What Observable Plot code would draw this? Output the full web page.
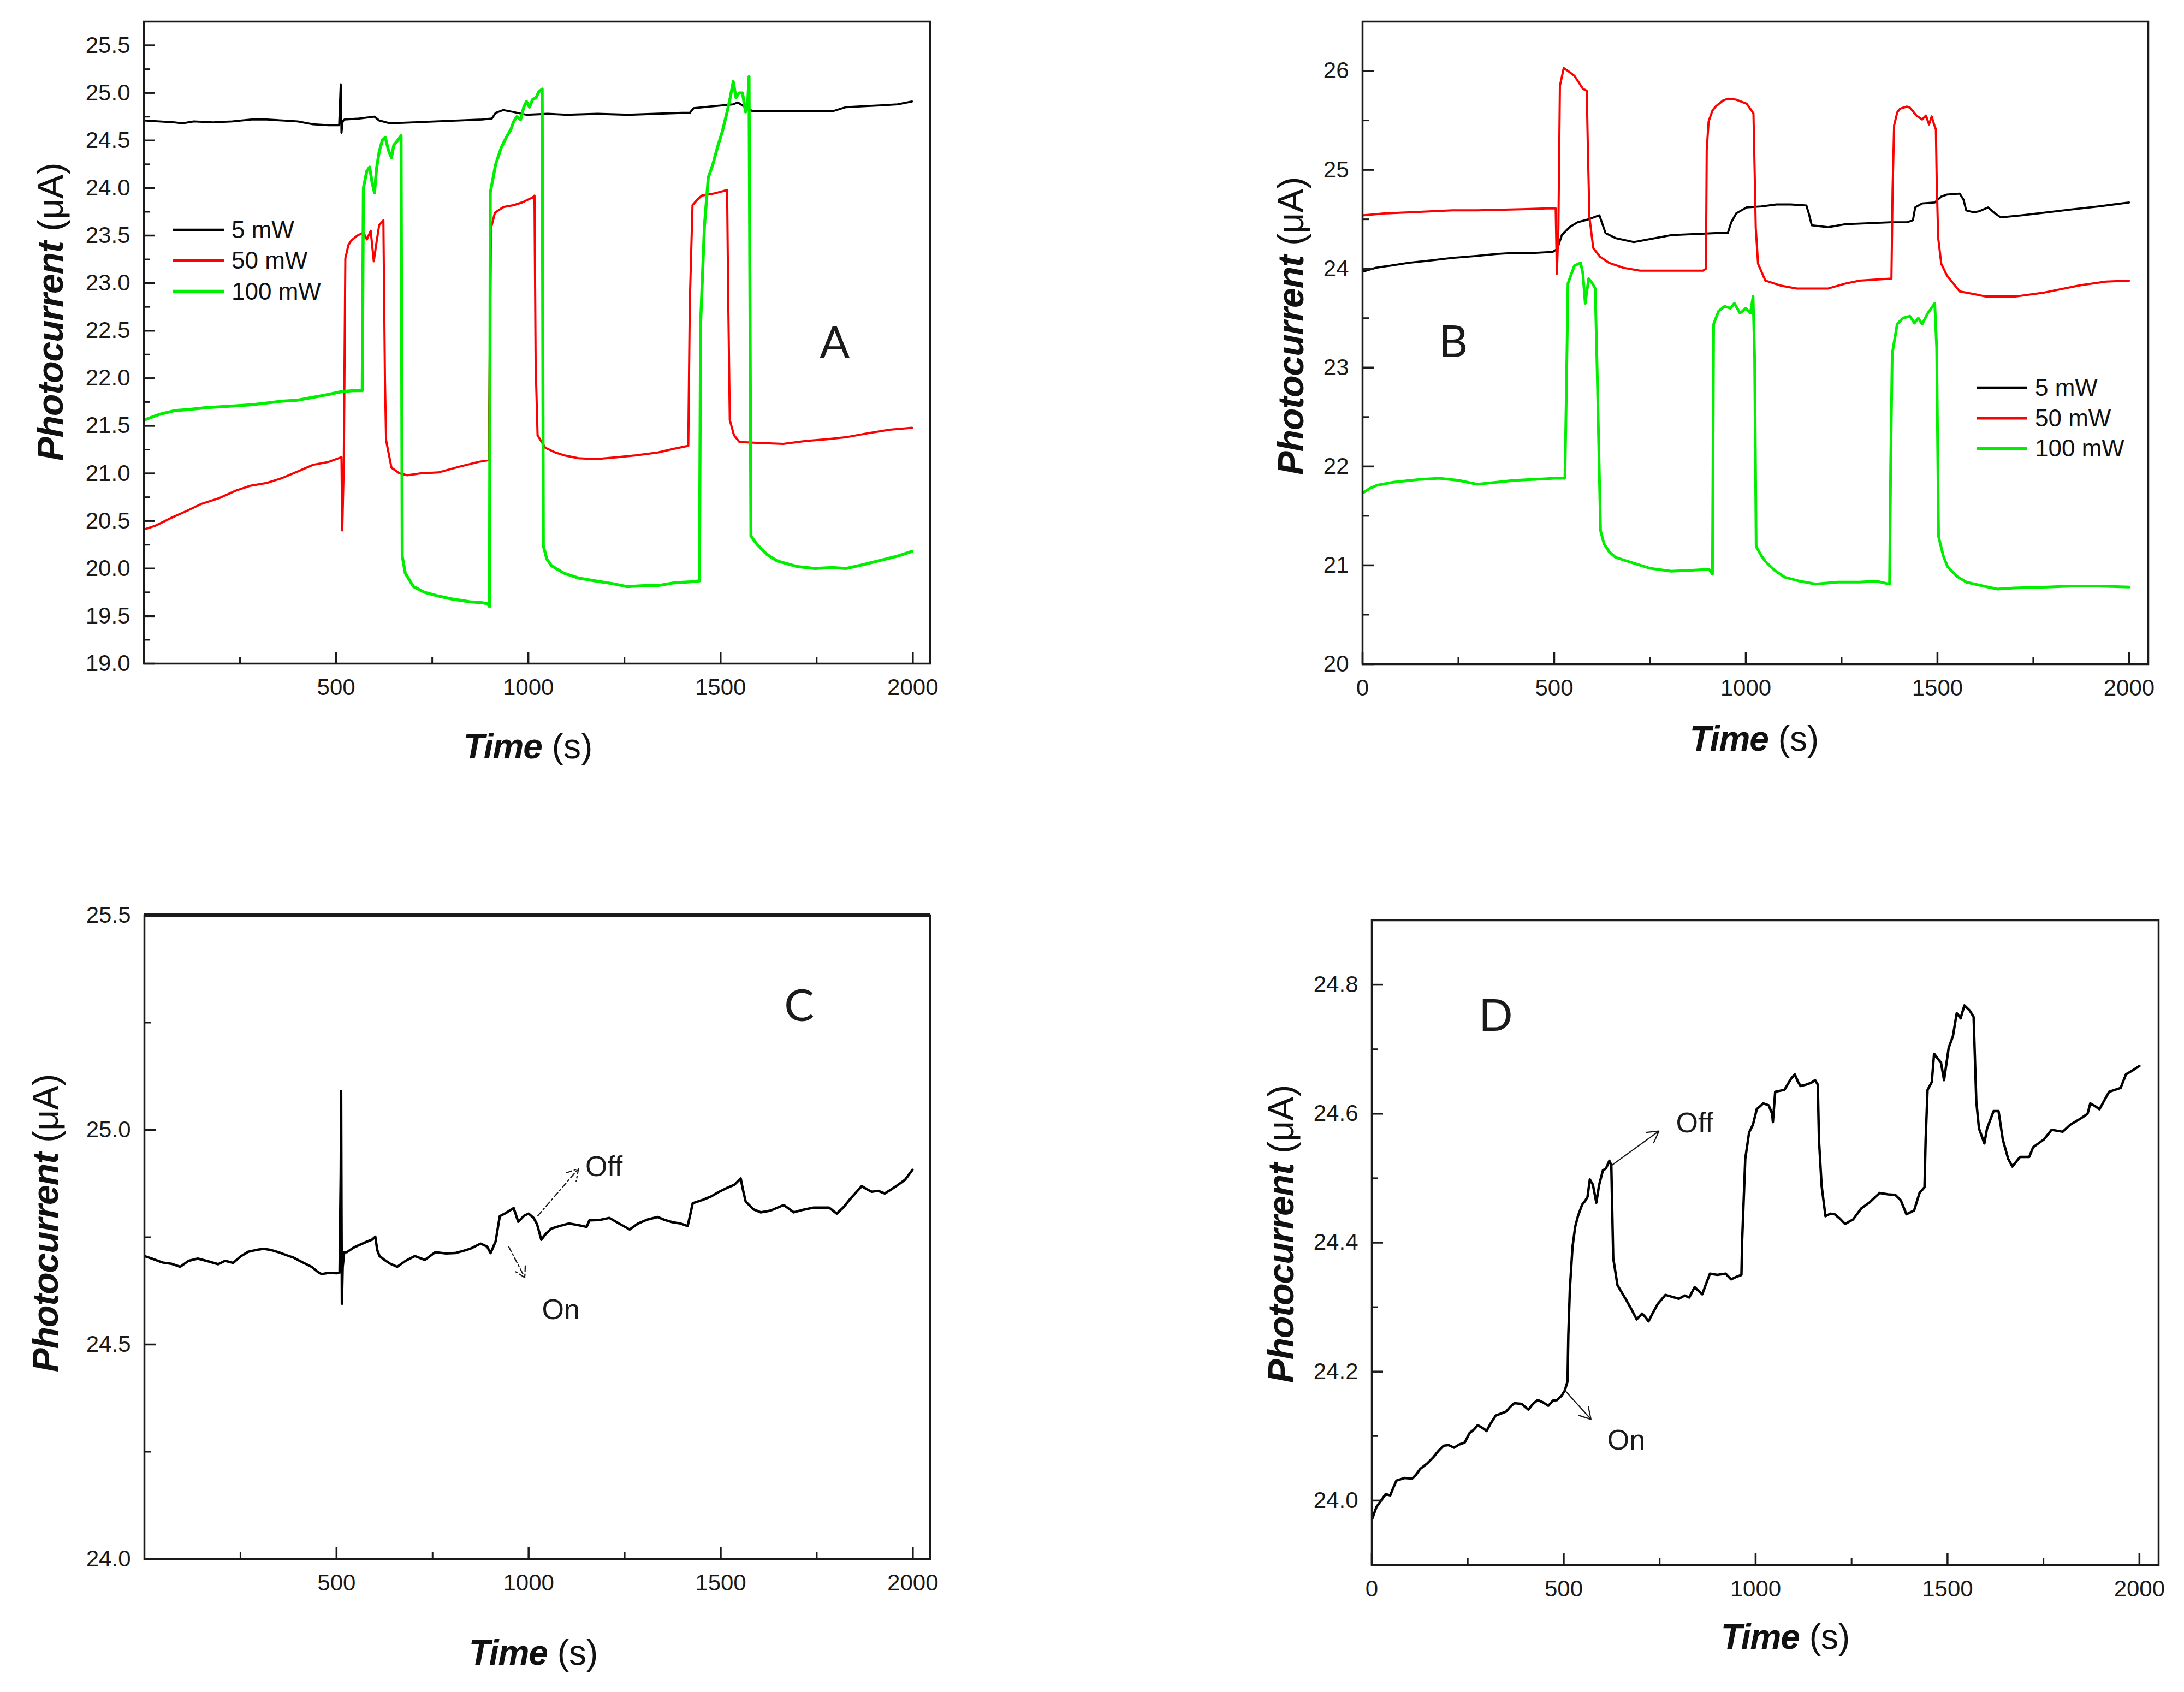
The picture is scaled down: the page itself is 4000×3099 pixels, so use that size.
<!DOCTYPE html>
<html>
<head>
<meta charset="utf-8">
<script src="https://cdn.jsdelivr.net/npm/d3@7"></script>
<script src="https://cdn.jsdelivr.net/npm/@observablehq/plot@0.6"></script>
<style>
  html, body { margin: 0; padding: 0; background: #fff; }
  #fig { position: relative; width: 4000px; height: 3099px; overflow: hidden;
         font-family: "Liberation Sans", Arial, sans-serif; color: #111; }
  #fig > svg { position: absolute; }
  .ytitle { position: absolute; white-space: nowrap; font-size: 66px;
            transform: translate(-50%, -50%) rotate(-90deg); }
  .xtitle { position: absolute; white-space: nowrap; font-size: 64px;
            transform: translate(-50%, -50%); }
  .ytitle b, .xtitle b { font-weight: bold; font-style: italic; letter-spacing: -1px; }
  .lg-row { position: absolute; height: 50px; display: flex; align-items: center;
            font-size: 44px; white-space: nowrap; }
  .lg-row svg { display: block; margin-right: 14px; }
</style>
</head>
<body>
<div id="fig"></div>
<script>
// series names / colours
const seriesNames = ["5 mW", "50 mW", "100 mW"];
const seriesColors = ["#000000", "#ff0000", "#00ee00"];

// ---- panel A : [time s, photocurrent uA]
const a5mW = [[0,24.71],[40,24.70],[80,24.69],[100,24.68],[130,24.70],[180,24.69],[230,24.70],[280,24.72],[320,24.72],[360,24.71],[400,24.70],[440,24.67],[480,24.66],[508,24.66],[512,25.09],[514,24.58],[517,24.70],[522,24.72],[560,24.73],[600,24.75],[612,24.71],[640,24.68],[700,24.69],[760,24.70],[820,24.71],[880,24.72],[905,24.73],[915,24.79],[935,24.82],[960,24.80],[995,24.77],[1050,24.78],[1100,24.77],[1180,24.78],[1260,24.77],[1330,24.78],[1400,24.79],[1420,24.79],[1430,24.84],[1480,24.86],[1533,24.88],[1545,24.90],[1560,24.86],[1582,24.81],[1650,24.81],[1720,24.81],[1794,24.81],[1826,24.85],[1870,24.86],[1920,24.87],[1960,24.88],[1998,24.91]];
const a50mW = [[0,20.41],[30,20.45],[70,20.53],[114,20.61],[150,20.68],[196,20.74],[240,20.82],[277,20.87],[320,20.90],[359,20.95],[400,21.02],[440,21.09],[480,21.12],[514,21.17],[516,20.40],[520,21.10],[524,23.26],[532,23.40],[540,23.45],[555,23.50],[571,23.53],[580,23.46],[590,23.55],[598,23.23],[604,23.40],[612,23.61],[623,23.66],[627,22.00],[630,21.35],[644,21.06],[665,21.00],[685,20.98],[720,21.00],[766,21.01],[820,21.07],[870,21.12],[897,21.14],[900,22.40],[903,23.58],[913,23.74],[935,23.80],[962,23.82],[985,23.85],[1000,23.88],[1011,23.90],[1016,23.92],[1019,22.15],[1024,21.40],[1044,21.27],[1070,21.22],[1093,21.19],[1130,21.16],[1174,21.15],[1230,21.17],[1280,21.19],[1337,21.22],[1380,21.26],[1416,21.29],[1420,22.80],[1427,23.82],[1440,23.88],[1451,23.92],[1480,23.94],[1500,23.96],[1517,23.98],[1520,22.80],[1524,21.56],[1535,21.40],[1549,21.33],[1600,21.32],[1663,21.31],[1720,21.34],[1780,21.36],[1826,21.38],[1880,21.42],[1940,21.46],[1998,21.48]];
const a100mW = [[0,21.56],[40,21.62],[80,21.66],[114,21.67],[160,21.69],[200,21.70],[240,21.71],[277,21.72],[320,21.74],[360,21.76],[400,21.77],[440,21.80],[480,21.83],[514,21.86],[545,21.87],[568,21.87],[571,24.00],[580,24.18],[587,24.22],[594,24.05],[600,23.95],[605,24.20],[612,24.38],[620,24.50],[628,24.53],[636,24.40],[644,24.32],[650,24.45],[660,24.50],[669,24.55],[672,20.13],[680,19.95],[701,19.81],[730,19.75],[766,19.71],[800,19.68],[848,19.65],[880,19.64],[894,19.63],[899,19.60],[901,23.95],[915,24.25],[930,24.43],[945,24.55],[954,24.61],[962,24.70],[970,24.75],[980,24.72],[988,24.85],[995,24.91],[1003,24.85],[1011,24.93],[1020,24.95],[1027,25.01],[1036,25.04],[1039,20.24],[1048,20.10],[1060,20.03],[1093,19.95],[1130,19.90],[1174,19.87],[1220,19.84],[1256,19.81],[1300,19.82],[1337,19.82],[1380,19.85],[1420,19.86],[1445,19.87],[1448,22.57],[1458,23.60],[1468,24.11],[1480,24.25],[1492,24.43],[1505,24.60],[1517,24.80],[1525,24.95],[1533,25.12],[1540,24.95],[1548,25.00],[1557,25.00],[1565,24.80],[1570,24.85],[1574,25.17],[1579,20.34],[1590,20.28],[1598,20.24],[1620,20.15],[1647,20.08],[1700,20.02],[1745,20.00],[1790,20.01],[1826,20.00],[1870,20.04],[1920,20.09],[1960,20.13],[1998,20.18]];

// ---- panel B
const b5mW = [[0,23.97],[35,24.01],[70,24.03],[120,24.06],[170,24.08],[234,24.11],[300,24.13],[350,24.15],[397,24.16],[450,24.16],[496,24.17],[508,24.20],[520,24.34],[540,24.42],[561,24.47],[590,24.50],[610,24.53],[618,24.54],[626,24.45],[634,24.36],[660,24.31],[708,24.27],[750,24.30],[806,24.34],[860,24.35],[920,24.36],[953,24.36],[962,24.47],[975,24.56],[1002,24.62],[1040,24.63],[1080,24.65],[1117,24.65],[1158,24.64],[1165,24.55],[1172,24.44],[1215,24.42],[1260,24.45],[1320,24.46],[1378,24.47],[1420,24.47],[1436,24.49],[1442,24.62],[1460,24.66],[1493,24.67],[1510,24.73],[1525,24.75],[1558,24.76],[1568,24.70],[1575,24.59],[1595,24.57],[1608,24.58],[1632,24.62],[1650,24.56],[1665,24.52],[1720,24.54],[1787,24.57],[1850,24.60],[1920,24.63],[1960,24.65],[2000,24.67]];
const b50mW = [[0,24.54],[60,24.56],[120,24.57],[234,24.59],[300,24.59],[400,24.60],[480,24.61],[504,24.61],[507,23.95],[511,24.40],[515,25.85],[525,26.03],[540,25.99],[553,25.95],[565,25.88],[575,25.82],[585,25.80],[588,25.20],[592,24.52],[602,24.21],[620,24.12],[643,24.06],[680,24.01],[724,23.98],[800,23.98],[888,23.98],[896,24.00],[898,25.20],[903,25.49],[913,25.60],[921,25.64],[940,25.70],[953,25.72],[975,25.71],[1002,25.67],[1015,25.60],[1020,25.57],[1023,25.00],[1026,24.41],[1032,24.05],[1051,23.88],[1090,23.83],[1133,23.80],[1170,23.80],[1215,23.80],[1260,23.85],[1297,23.88],[1340,23.89],[1380,23.90],[1383,24.80],[1387,25.45],[1395,25.58],[1403,25.62],[1420,25.64],[1428,25.63],[1445,25.55],[1460,25.51],[1470,25.55],[1478,25.46],[1485,25.54],[1492,25.45],[1496,25.41],[1498,24.90],[1502,24.31],[1510,24.05],[1525,23.93],[1558,23.77],[1600,23.74],[1624,23.72],[1660,23.72],[1706,23.72],[1780,23.76],[1869,23.83],[1940,23.87],[2000,23.88]];
const b100mW = [[0,21.73],[20,21.78],[38,21.81],[80,21.84],[152,21.87],[200,21.88],[250,21.86],[299,21.82],[350,21.84],[397,21.86],[450,21.87],[500,21.88],[528,21.88],[532,22.80],[536,23.85],[545,23.95],[553,24.03],[569,24.06],[575,23.95],[581,23.65],[590,23.90],[600,23.85],[607,23.80],[612,23.00],[621,21.35],[630,21.22],[643,21.14],[660,21.08],[692,21.04],[750,20.97],[806,20.94],[860,20.95],[904,20.96],[913,20.91],[916,23.44],[929,23.57],[945,23.62],[960,23.60],[970,23.65],[985,23.55],[1000,23.60],[1012,23.55],[1019,23.72],[1023,23.10],[1027,21.19],[1040,21.10],[1051,21.04],[1075,20.95],[1101,20.88],[1140,20.84],[1182,20.81],[1240,20.83],[1297,20.83],[1340,20.84],[1375,20.81],[1378,22.00],[1382,23.14],[1395,23.44],[1410,23.50],[1428,23.52],[1440,23.45],[1450,23.50],[1460,23.44],[1475,23.55],[1493,23.65],[1498,23.20],[1503,21.29],[1515,21.10],[1526,20.99],[1550,20.89],[1575,20.83],[1620,20.79],[1656,20.76],[1700,20.77],[1787,20.78],[1850,20.79],[1920,20.79],[2000,20.78]];

// ---- panel C (5 mW, zoomed)
const c5mW = [[0,24.706],[20,24.700],[47,24.691],[70,24.688],[93,24.681],[115,24.695],[139,24.700],[165,24.694],[192,24.687],[210,24.695],[231,24.690],[250,24.705],[270,24.716],[290,24.720],[310,24.723],[330,24.720],[349,24.715],[370,24.708],[389,24.702],[410,24.692],[435,24.681],[450,24.670],[461,24.664],[480,24.667],[500,24.666],[508,24.668],[511,24.900],[512,25.090],[513,24.800],[514,24.595],[516,24.680],[520,24.715],[527,24.715],[545,24.726],[560,24.732],[580,24.740],[592,24.744],[601,24.751],[606,24.720],[612,24.706],[625,24.697],[638,24.689],[658,24.681],[680,24.695],[704,24.706],[730,24.697],[757,24.715],[785,24.712],[809,24.713],[830,24.718],[848,24.723],[875,24.735],[892,24.728],[901,24.713],[914,24.740],[925,24.799],[940,24.806],[961,24.818],[973,24.786],[988,24.800],[1000,24.805],[1013,24.795],[1022,24.780],[1033,24.744],[1045,24.758],[1059,24.770],[1080,24.776],[1105,24.782],[1130,24.778],[1151,24.774],[1158,24.789],[1185,24.790],[1210,24.795],[1235,24.782],[1263,24.768],[1285,24.782],[1309,24.791],[1336,24.797],[1355,24.790],[1374,24.785],[1395,24.782],[1414,24.776],[1420,24.800],[1427,24.829],[1453,24.837],[1475,24.845],[1494,24.855],[1519,24.866],[1535,24.872],[1552,24.887],[1558,24.860],[1565,24.833],[1585,24.815],[1604,24.808],[1630,24.812],[1664,24.825],[1690,24.808],[1715,24.814],[1742,24.819],[1782,24.819],[1802,24.805],[1820,24.820],[1835,24.837],[1850,24.852],[1867,24.869],[1880,24.862],[1893,24.856],[1910,24.858],[1927,24.852],[1945,24.862],[1960,24.871],[1980,24.884],[1999,24.907]];

// ---- panel D (5 mW, zoomed)
const d5mW = [[0,23.970],[3,23.975],[12,23.990],[24,24.000],[36,24.010],[48,24.008],[56,24.020],[64,24.031],[85,24.035],[105,24.034],[115,24.040],[126,24.049],[145,24.058],[160,24.067],[175,24.078],[187,24.085],[200,24.086],[214,24.082],[228,24.087],[242,24.090],[255,24.105],[266,24.110],[276,24.117],[290,24.112],[299,24.108],[310,24.120],[323,24.132],[337,24.135],[350,24.138],[360,24.145],[371,24.151],[390,24.150],[408,24.141],[420,24.150],[432,24.156],[447,24.152],[460,24.147],[472,24.155],[483,24.156],[495,24.163],[503,24.171],[510,24.185],[512,24.256],[516,24.328],[523,24.394],[530,24.425],[537,24.441],[548,24.459],[556,24.465],[562,24.471],[568,24.498],[576,24.490],[585,24.462],[592,24.489],[602,24.512],[610,24.515],[619,24.527],[624,24.520],[629,24.376],[640,24.334],[652,24.322],[663,24.311],[677,24.296],[690,24.281],[704,24.290],[712,24.285],[721,24.278],[733,24.292],[745,24.305],[765,24.319],[782,24.316],[800,24.313],[815,24.318],[827,24.315],[841,24.331],[861,24.320],[872,24.338],[881,24.352],[900,24.350],[922,24.352],[936,24.343],[950,24.347],[963,24.350],[965,24.405],[973,24.530],[983,24.571],[993,24.583],[1003,24.607],[1020,24.616],[1034,24.613],[1043,24.600],[1045,24.587],[1051,24.634],[1075,24.637],[1092,24.654],[1102,24.661],[1110,24.650],[1117,24.643],[1131,24.645],[1145,24.648],[1155,24.652],[1162,24.645],[1165,24.560],[1172,24.488],[1182,24.441],[1195,24.445],[1206,24.444],[1220,24.437],[1233,24.429],[1254,24.436],[1275,24.453],[1296,24.462],[1310,24.470],[1323,24.477],[1345,24.475],[1364,24.474],[1378,24.466],[1393,24.444],[1413,24.450],[1427,24.477],[1440,24.486],[1443,24.560],[1448,24.637],[1459,24.649],[1465,24.693],[1475,24.685],[1483,24.679],[1491,24.652],[1503,24.702],[1514,24.720],[1524,24.756],[1534,24.748],[1544,24.768],[1558,24.760],[1568,24.750],[1575,24.619],[1582,24.577],[1596,24.554],[1603,24.577],[1620,24.604],[1633,24.604],[1644,24.560],[1658,24.530],[1669,24.518],[1689,24.533],[1713,24.533],[1723,24.548],[1751,24.560],[1771,24.575],[1800,24.572],[1820,24.583],[1848,24.593],[1865,24.600],[1872,24.616],[1884,24.612],[1896,24.607],[1921,24.634],[1951,24.640],[1965,24.661],[1982,24.667],[2000,24.674]];

// ---- ticks
const xMajorNoZero = [500, 1000, 1500, 2000];
const xMajor = [0, 500, 1000, 1500, 2000];
const xMinor = [250, 750, 1250, 1750];
const yMajorA = [19.0, 19.5, 20.0, 20.5, 21.0, 21.5, 22.0, 22.5, 23.0, 23.5, 24.0, 24.5, 25.0, 25.5];
const yMinorA = [19.25, 19.75, 20.25, 20.75, 21.25, 21.75, 22.25, 22.75, 23.25, 23.75, 24.25, 24.75, 25.25];
const yMajorB = [20, 21, 22, 23, 24, 25, 26];
const yMinorB = [20.5, 21.5, 22.5, 23.5, 24.5, 25.5];
const yMajorC = [24.0, 24.5, 25.0, 25.5];
const yMinorC = [24.25, 24.75, 25.25];
const yMajorD = [24.0, 24.2, 24.4, 24.6, 24.8];
const yMinorD = [23.9, 24.1, 24.3, 24.5, 24.7];

// ---- annotations (time, value)
const onOffC = [{t: 1196, v: 24.914, label: "Off"}, {t: 1084, v: 24.58, label: "On"}];
const arrowsC = [{t1: 1024, v1: 24.800, t2: 1130, v2: 24.910}, {t1: 948, v1: 24.728, t2: 990, v2: 24.656}];
const onOffD = [{t: 841, v: 24.585, label: "Off"}, {t: 663, v: 24.093, label: "On"}];
const arrowsD = [{t1: 625, v1: 24.520, t2: 748, v2: 24.573}, {t1: 503, v1: 24.171, t2: 571, v2: 24.126}];
const letters = [{t: 1797, v: 22.36, label: "A"}, {t: 237, v: 23.25, label: "B"}, {t: 1704, v: 25.287, label: "C"}, {t: 323, v: 24.751, label: "D"}];

const fig = document.getElementById("fig");
const ink = "#1a1a1a";

function panel(p) {
  const [fl, ft, fr, fb] = p.frame;
  const [bx, by, bw, bh] = p.box;
  const innerW = fr - fl, innerH = fb - ft;
  const marks = [];
  p.series.forEach(s => {
    marks.push(Plot.line(s.data, {x: d => d[0], y: d => d[1], stroke: s.color, strokeWidth: s.width,
      strokeLinejoin: "round", clip: true}));
  });
  if (p.arrows) marks.push(Plot.arrow(p.arrows, {x1: "t1", y1: "v1", x2: "t2", y2: "v2", stroke: ink,
    strokeWidth: 2.2, headLength: 16, strokeDasharray: p.arrowDash || null}));
  if (p.notes) marks.push(Plot.text(p.notes, {x: "t", y: "v", text: "label", fontSize: 52, fill: ink}));
  marks.push(Plot.text([p.letter], {x: "t", y: "v", text: "label", fontSize: 82, fontFamily: "Lato, 'Open Sans', sans-serif", fill: ink}));
  marks.push(
    Plot.tickX(xMinor, {x: d => d, insetTop: innerH - 12, stroke: ink, strokeWidth: 3}),
    Plot.tickX(p.xMajor, {x: d => d, insetTop: innerH - 21, stroke: ink, strokeWidth: 3.5}),
    Plot.tickY(p.yMinor, {y: d => d, insetRight: innerW - 12, stroke: ink, strokeWidth: 3}),
    Plot.tickY(p.yMajor, {y: d => d, insetRight: innerW - 21, stroke: ink, strokeWidth: 3.5}),
    Plot.axisX({ticks: p.xLabels, tickSize: 0, tickPadding: 28, tickFormat: d => String(d), label: null, fontSize: 42}),
    Plot.axisY({ticks: p.yMajor, tickSize: 0, tickPadding: 25, tickFormat: p.yFmt, label: null, fontSize: 42}),
    Plot.frame({stroke: ink, strokeWidth: 3.5})
  );
  if (p.thickTop) marks.push(Plot.ruleY([p.yDomain[1]], {stroke: ink, strokeWidth: 7}));
  const svg = Plot.plot({
    width: bw, height: bh,
    marginLeft: fl - bx, marginTop: ft - by, marginRight: bx + bw - fr, marginBottom: by + bh - fb,
    style: {fontFamily: "'Liberation Sans', Arial, sans-serif", fontSize: "42px", color: ink, background: "transparent", overflow: "visible"},
    x: {domain: p.xDomain},
    y: {domain: p.yDomain},
    marks
  });
  svg.style.left = bx + "px";
  svg.style.top = by + "px";
  fig.appendChild(svg);

  const yt = document.createElement("div");
  yt.className = "ytitle";
  yt.style.left = p.yTitle[0] + "px"; yt.style.top = p.yTitle[1] + "px";
  yt.innerHTML = "<b>Photocurrent</b> (\u03bcA)";
  fig.appendChild(yt);
  const xt = document.createElement("div");
  xt.className = "xtitle";
  xt.style.left = p.xTitle[0] + "px"; xt.style.top = p.xTitle[1] + "px";
  xt.innerHTML = "<b>Time</b> (s)";
  fig.appendChild(xt);

  if (p.legend) {
    const [lx, rows, lw] = p.legend;
    seriesNames.forEach((name, i) => {
      const row = document.createElement("div");
      row.className = "lg-row";
      row.style.left = lx + "px"; row.style.top = (rows[i] - 25) + "px";
      const sw = p.series[i].width + 0.8;
      row.innerHTML = `<svg width="${lw}" height="12"><line x1="0" x2="${lw}" y1="6" y2="6" stroke="${seriesColors[i]}" stroke-width="${sw}"/></svg><span>${name}</span>`;
      fig.appendChild(row);
    });
  }
}

const fmt1 = d3.format(".1f");

panel({
  box: [0, 0, 1900, 1300], frame: [263, 39, 1703, 1215],
  xDomain: [0, 2045], yDomain: [19, 25.75],
  xMajor: xMajorNoZero, xLabels: xMajorNoZero, yMajor: yMajorA, yMinor: yMinorA, yFmt: fmt1,
  series: [{data: a5mW, color: seriesColors[0], width: 3.8}, {data: a50mW, color: seriesColors[1], width: 4}, {data: a100mW, color: seriesColors[2], width: 5.5}],
  letter: letters[0], yTitle: [92, 571], xTitle: [967, 1367],
  legend: [316, [421, 477, 534], 94]
});
panel({
  box: [2100, 0, 1900, 1300], frame: [2495, 39, 3934, 1216],
  xDomain: [0, 2050], yDomain: [20, 26.5],
  xMajor: xMajor, xLabels: xMajor, yMajor: yMajorB, yMinor: yMinorB, yFmt: d => String(d),
  series: [{data: b5mW, color: seriesColors[0], width: 3.8}, {data: b50mW, color: seriesColors[1], width: 4}, {data: b100mW, color: seriesColors[2], width: 5}],
  letter: letters[1], yTitle: [2364, 597], xTitle: [3213, 1353],
  legend: [3620, [710, 766, 821], 93]
});
panel({
  box: [0, 1550, 1900, 1400], frame: [264, 1676, 1703, 2855],
  xDomain: [0, 2045], yDomain: [24, 25.5],
  xMajor: xMajorNoZero, xLabels: xMajorNoZero, yMajor: yMajorC, yMinor: yMinorC, yFmt: fmt1,
  series: [{data: c5mW, color: seriesColors[0], width: 4.5}],
  notes: onOffC, arrows: arrowsC, arrowDash: "10,5,3,5", thickTop: true,
  letter: letters[2], yTitle: [83, 2240], xTitle: [977, 3027]
});
panel({
  box: [2100, 1550, 1900, 1400], frame: [2512, 1685, 3953, 2866],
  xDomain: [0, 2050], yDomain: [23.9, 24.9],
  xMajor: xMajor, xLabels: xMajor, yMajor: yMajorD, yMinor: yMinorD, yFmt: fmt1,
  series: [{data: d5mW, color: seriesColors[0], width: 4.5}],
  notes: onOffD, arrows: arrowsD,
  letter: letters[3], yTitle: [2346, 2260], xTitle: [3270, 2998]
});
</script>
</body>
</html>
